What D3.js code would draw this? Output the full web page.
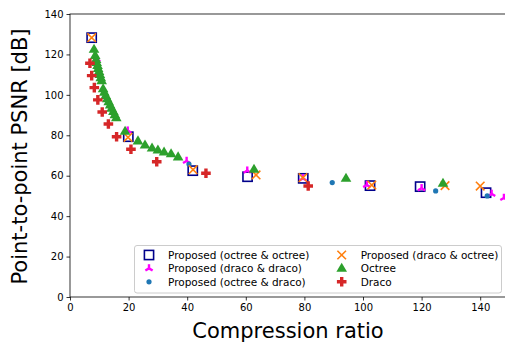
<!DOCTYPE html>
<html>
<head>
<meta charset="utf-8">
<script src="https://cdn.jsdelivr.net/npm/d3@7"></script>
<style>
  html, body { margin: 0; padding: 0; background: #fff; }
  svg { display: block; font-family: "DejaVu Sans", sans-serif; }
</style>
</head>
<body>
<svg id="chart" width="505" height="346"></svg>
<script>
// Compression ratio (x) and point-to-point PSNR in dB (y) per method
const octreeOctreeX = [7.4, 19.9, 41.9, 60.6, 79.6, 102.4, 119.5, 142.0];
const octreeOctreeY = [128.3, 79.3, 62.5, 59.5, 58.7, 55.1, 54.6, 51.6];

const dracoDracoX = [9.1, 19.7, 39.8, 60.5, 79.5, 101.3, 120.0, 143.9, 148.1];
const dracoDracoY = [117.6, 82.3, 67.3, 62.5, 58.7, 55.4, 53.8, 51.0, 49.0];

const octreeDracoX = [40.6, 89.5, 124.8, 142.4];
const octreeDracoY = [65.8, 56.6, 52.5, 50.0];

const dracoOctreeX = [7.4, 19.8, 42.0, 63.5, 79.5, 103.0, 128.0, 140.0];
const dracoOctreeY = [128.3, 79.0, 63.0, 60.4, 59.0, 55.4, 55.1, 54.9];

const octreeX = [8.2, 8.6, 8.9, 9.1, 9.4, 9.6, 9.9, 10.2, 10.5, 10.8,
                 11.3, 11.7, 12.2, 12.7, 13.2, 13.7, 14.2, 14.8, 15.3, 15.8,
                 18.8, 23.2, 25.6, 28.0, 30.0, 32.1, 34.5, 36.9, 62.8, 94.2, 127.3];
const octreeY = [122.5, 119.5, 117.5, 116.0, 114.5, 113.0, 111.5, 110.0, 108.5, 107.0,
                 103.0, 101.3, 99.7, 98.1, 96.6, 95.0, 93.4, 91.8, 90.2, 88.6,
                 82.0, 77.2, 75.2, 73.7, 72.7, 71.7, 70.8, 69.3, 63.2, 58.7, 56.2];

const dracoX = [6.8, 7.4, 8.3, 9.5, 11.0, 13.1, 15.9, 20.8, 29.6, 46.4, 81.3];
const dracoY = [115.6, 109.5, 103.6, 97.5, 91.5, 85.6, 79.3, 73.1, 66.9, 61.2, 54.9];

const xTicks = [0, 20, 40, 60, 80, 100, 120, 140];
const yTicks = [0, 20, 40, 60, 80, 100, 120, 140];

const series = [
  { name: "Proposed (octree & octree)", xs: octreeOctreeX, ys: octreeOctreeY, marker: "square", color: "#00008b" },
  { name: "Proposed (draco & draco)", xs: dracoDracoX, ys: dracoDracoY, marker: "tri", color: "#ff00ff" },
  { name: "Proposed (octree & draco)", xs: octreeDracoX, ys: octreeDracoY, marker: "dot", color: "#1f77b4" },
  { name: "Proposed (draco & octree)", xs: dracoOctreeX, ys: dracoOctreeY, marker: "x", color: "#ff7f0e" },
  { name: "Octree", xs: octreeX, ys: octreeY, marker: "triangle", color: "#2ca02c" },
  { name: "Draco", xs: dracoX, ys: dracoY, marker: "plus", color: "#d62728" }
];

const svg = d3.select("#chart");
const plotLeft = 70, plotRight = 509.5, plotTop = 14, plotBottom = 297;

const x = d3.scaleLinear().domain([0, 150]).range([plotLeft, plotRight]);
const y = d3.scaleLinear().domain([0, 140]).range([plotBottom, plotTop]);

svg.append("defs").append("clipPath").attr("id", "plot-clip")
  .append("rect").attr("x", plotLeft).attr("y", plotTop)
  .attr("width", plotRight - plotLeft).attr("height", plotBottom - plotTop);

// Draws one marker of the given kind centred at the group origin
function drawMarker(g, kind, color) {
  const s = 4.6;
  if (kind === "square") {
    g.append("rect").attr("x", -s).attr("y", -s).attr("width", 2 * s).attr("height", 2 * s)
      .attr("fill", "none").attr("stroke", color).attr("stroke-width", 1.6);
  } else if (kind === "tri") {
    const r = 4.2;
    const p = [[0, -r], [-r * 0.866, r * 0.5], [r * 0.866, r * 0.5]];
    p.forEach(([a, b]) => g.append("line").attr("x1", 0).attr("y1", 0).attr("x2", a).attr("y2", b)
      .attr("stroke", color).attr("stroke-width", 2.4).attr("stroke-linecap", "butt"));
  } else if (kind === "dot") {
    g.append("circle").attr("r", 2.6).attr("fill", color);
  } else if (kind === "x") {
    const r = 4.3;
    g.append("path").attr("d", `M${-r},${-r}L${r},${r}M${-r},${r}L${r},${-r}`)
      .attr("stroke", color).attr("stroke-width", 1.6).attr("fill", "none");
  } else if (kind === "triangle") {
    const r = 5.6;
    g.append("path").attr("d", `M0,${-r}L${r * 0.95},${r * 0.62}L${-r * 0.95},${r * 0.62}Z`)
      .attr("fill", color);
  } else if (kind === "plus") {
    const a = 4.8, b = 1.7;
    g.append("path")
      .attr("d", `M${-b},${-a}H${b}V${-b}H${a}V${b}H${b}V${a}H${-b}V${b}H${-a}V${-b}H${-b}Z`)
      .attr("fill", color);
  }
}

// Data markers
const plot = svg.append("g").attr("clip-path", "url(#plot-clip)");
series.forEach(sr => {
  sr.xs.forEach((v, i) => {
    const g = plot.append("g").attr("transform", `translate(${x(v)},${y(sr.ys[i])})`);
    drawMarker(g, sr.marker, sr.color);
  });
});

// Axes
const xAxis = d3.axisBottom(x).tickValues(xTicks).tickSize(3.5).tickPadding(3);
const yAxis = d3.axisLeft(y).tickValues(yTicks).tickSize(3.5).tickPadding(3);

const gx = svg.append("g").attr("transform", `translate(0,${plotBottom})`).call(xAxis);
const gy = svg.append("g").attr("transform", `translate(${plotLeft},0)`).call(yAxis);
[gx, gy].forEach(g => {
  g.select(".domain").remove();
  g.selectAll("line").attr("stroke", "#000").attr("stroke-width", 0.8);
  g.selectAll("text").attr("font-size", 10).attr("fill", "#000")
    .attr("font-family", "DejaVu Sans, sans-serif");
});

// Frame
svg.append("rect").attr("x", plotLeft).attr("y", plotTop)
  .attr("width", plotRight - plotLeft).attr("height", plotBottom - plotTop)
  .attr("fill", "none").attr("stroke", "#000").attr("stroke-width", 0.8);

// Axis titles
svg.append("text").attr("x", 288).attr("y", 338)
  .attr("text-anchor", "middle").attr("font-size", 21).attr("fill", "#000")
  .text("Compression ratio");
svg.append("text").attr("transform", `translate(27,${(plotTop + plotBottom) / 2 + 1}) rotate(-90)`)
  .attr("text-anchor", "middle").attr("font-size", 21).attr("fill", "#000")
  .text("Point-to-point PSNR [dB]");

// Legend (two columns, three rows)
const legend = svg.append("g");
legend.append("rect").attr("x", 134.5).attr("y", 245.5).attr("width", 367).attr("height", 47.5)
  .attr("rx", 2.5).attr("fill", "#fff").attr("fill-opacity", 0.8)
  .attr("stroke", "#cccccc").attr("stroke-width", 1);
series.forEach((sr, i) => {
  const col = Math.floor(i / 3), row = i % 3;
  const mx = col === 0 ? 149 : 341.7;
  const ty = 255 + row * 13.4;
  const g = legend.append("g").attr("transform", `translate(${mx},${ty})`);
  drawMarker(g, sr.marker, sr.color);
  legend.append("text").attr("x", mx + 19).attr("y", ty + 3.7)
    .attr("font-size", 10.5).attr("fill", "#000").text(sr.name);
});
</script>
</body>
</html>
